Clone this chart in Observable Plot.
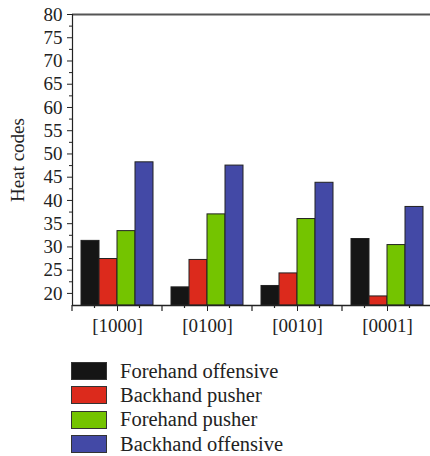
<!DOCTYPE html>
<html>
<head>
<meta charset="utf-8">
<script src="https://cdn.jsdelivr.net/npm/d3@7"></script>
<script src="https://cdn.jsdelivr.net/npm/@observablehq/plot@0.6"></script>
<style>
  body { margin: 0; background: #fff; }
  #legend { margin-left: 71px; margin-top: 14px; font-family: "Liberation Serif", serif; font-size: 20.5px; color: #222; }
  .row { display: flex; align-items: center; height: 24.3px; }
  .sw { width: 34px; height: 16px; border: 1px solid #333; margin-right: 13px; box-sizing: content-box; }
</style>
</head>
<body>
<div id="chart"></div>
<div id="legend"></div>
<script>
const codes = ["[1000]", "[0100]", "[0010]", "[0001]"];
const series = ["Forehand offensive", "Backhand pusher", "Forehand pusher", "Backhand offensive"];
const forehandOffensive = [31.3, 21.3, 21.6, 31.7];
const backhandPusher = [27.4, 27.2, 24.3, 19.35];
const forehandPusher = [33.4, 37.0, 36.0, 30.4];
const backhandOffensive = [48.2, 47.5, 43.8, 38.6];
const colors = ["#151515", "#dc2a1c", "#74c400", "#4349a6"];
const yTicks = [20, 25, 30, 35, 40, 45, 50, 55, 60, 65, 70, 75, 80];
const yMinorTicks = [22.5, 27.5, 32.5, 37.5, 42.5, 47.5, 52.5, 57.5, 62.5, 67.5, 72.5, 77.5];
const yMin = 17.4, yMax = 80;

const values = [forehandOffensive, backhandPusher, forehandPusher, backhandOffensive];
const data = codes.flatMap((code, i) => series.map((s, j) => ({code, series: s, value: values[j][i]})));

const plot = Plot.plot({
  width: 430,
  height: 345,
  marginLeft: 71,
  marginRight: 0,
  marginTop: 14,
  marginBottom: 40,
  style: {fontFamily: "Liberation Serif, serif", fontSize: "19px", color: "#222", background: "white"},
  y: {domain: [yMin, yMax]},
  fx: {domain: codes, padding: 0, range: [72, 432]},
  x: {domain: series, paddingInner: 0, paddingOuter: 0.5, axis: null},
  color: {domain: series, range: colors},
  marks: [
    Plot.barY(data, {fx: "code", x: "series", y1: yMin, y2: "value", fill: "series", stroke: "#222", strokeWidth: 1}),
    Plot.ruleY([yMax], {stroke: "#555", strokeWidth: 2}),
    Plot.ruleY([yMin], {stroke: "#222", strokeWidth: 1.5}),
    Plot.frame({anchor: "left", facetAnchor: "left", stroke: "#222", strokeWidth: 1.2}),
    Plot.axisY({ticks: yTicks, tickSize: 5, tickPadding: 5, fontSize: 19, label: "Heat codes", labelAnchor: "center", labelOffset: 62, labelArrow: "none"}),
    Plot.axisY({ticks: yMinorTicks, tickSize: 3, text: null, label: null}),
    Plot.axisFx({anchor: "bottom", tickSize: 6, tickPadding: 7, fontSize: 19, label: null})
  ]
});

document.getElementById("chart").appendChild(plot);

// minor x ticks at band boundaries and quarters, from the fx scale
const fx = plot.scale("fx");
const svg = d3.select(plot);
const bw = fx.bandwidth;
const yBottom = plot.scale("y").apply(yMin);
const g = svg.append("g").attr("stroke", "#222").attr("stroke-width", 1.2);
codes.forEach((c, i) => {
  const start = fx.apply(c);
  [0, 1, 3, 4].forEach(k => {
    if (k === 0 && i > 0) return;
    const x = start + k * bw / 4;
    g.append("line").attr("x1", x).attr("x2", x).attr("y1", yBottom).attr("y2", yBottom + (k % 2 ? 3 : 6));
  });
});

const legend = d3.select("#legend");
series.forEach((s, j) => {
  const row = legend.append("div").attr("class", "row");
  row.append("div").attr("class", "sw").style("background", colors[j]);
  row.append("span").text(s);
});
</script>
</body>
</html>
